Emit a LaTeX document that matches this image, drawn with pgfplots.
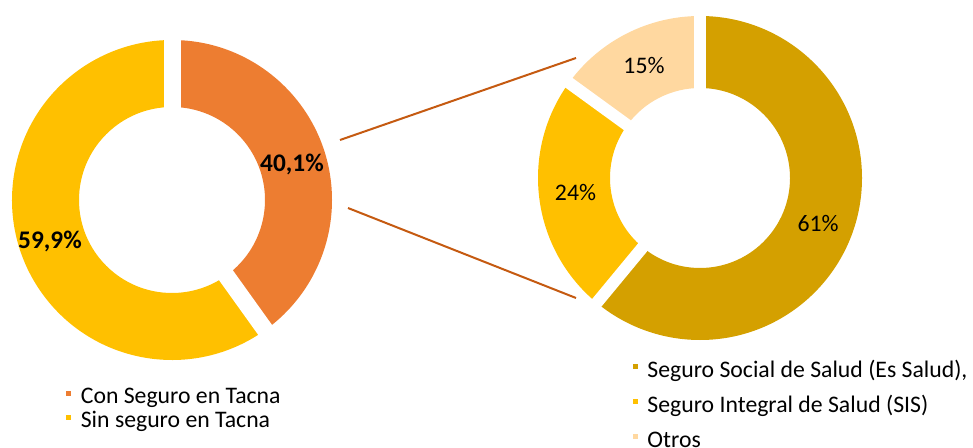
\documentclass[border=0pt]{standalone}
\usepackage{pgfplots}
\pgfplotsset{compat=1.18}
\usepackage{fontspec}
\setmainfont{Carlito}
\definecolor{cOrange}{HTML}{ED7D31}
\definecolor{cYellow}{HTML}{FFC000}
\definecolor{cGold}{HTML}{D4A000}
\definecolor{cPeach}{HTML}{FFD8A0}
\definecolor{cLine}{HTML}{C55A11}

% #1 cx, #2 cy, #3 outer R, #4 inner r, #5 start %, #6 end %, #7 colour  (units: px of the reference)
\newcommand{\slice}[7]{%
  \fill[#7] (axis cs:{#1+#3*cos(90-3.6*(#5))},{#2+#3*sin(90-3.6*(#5))})
    arc[start angle={90-3.6*(#5)}, end angle={90-3.6*(#6)}, radius={#3*0.75pt}]
    -- (axis cs:{#1+#4*cos(90-3.6*(#6))},{#2+#4*sin(90-3.6*(#6))})
    arc[start angle={90-3.6*(#6)}, end angle={90-3.6*(#5)}, radius={#4*0.75pt}]
    -- cycle;}
% white separating gap at boundary #5 (%), width #6
\newcommand{\gap}[6]{%
  \draw[white, line width=#6] (axis cs:{#1+(#4-3)*cos(90-3.6*(#5))},{#2+(#4-3)*sin(90-3.6*(#5))})
    -- (axis cs:{#1+(#3+3)*cos(90-3.6*(#5))},{#2+(#3+3)*sin(90-3.6*(#5))});}

\pgfplotsset{
  base/.style={x=0.75pt, y=0.75pt, xmin=0, xmax=973, ymin=0, ymax=447,
    hide axis, clip=false, anchor=south west, at={(0,0)},
    legend cell align=left,
    legend image code/.code={\fill[##1] (0pt,3.6pt) rectangle (3pt,6.6pt);},
    legend style={draw=none, fill=none, inner sep=0pt, outer sep=0pt,
      anchor=north west, font=\fontsize{17.8}{21}\selectfont,
      nodes={inner sep=0pt, text height=12pt, text depth=6pt},
      /tikz/every odd column/.style={column sep=7.4pt}}},
}

\begin{document}
\begin{tikzpicture}
\begin{axis}[base, name=ax,
  legend style={at={(axis description cs:0.0683,0.132)}, row sep=0pt}]
  \addlegendimage{cOrange}\addlegendentry{Con Seguro en Tacna}
  \addlegendimage{cYellow}\addlegendentry{Sin seguro en Tacna}
  % left donut: 40,1 / 59,9
  \slice{172}{247}{160}{93}{0}{40.1}{cOrange}
  \slice{172}{247}{160}{93}{40.1}{100}{cYellow}
  \gap{172}{247}{160}{93}{0}{12.75pt}
  \gap{172}{247}{160}{93}{40.1}{12.75pt}
  % right donut: 61 / 24 / 15
  \slice{700}{269}{162}{90}{0}{61}{cGold}
  \slice{700}{269}{162}{90}{61}{85}{cYellow}
  \slice{700}{269}{162}{90}{85}{100}{cPeach}
  \gap{700}{269}{162}{90}{0}{9pt}
  \gap{700}{269}{162}{90}{61}{9pt}
  \gap{700}{269}{162}{90}{85}{9pt}
  % connector lines
  \addplot[cLine, line width=1.5pt, forget plot] coordinates {(340,307) (576,389)};
  \addplot[cLine, line width=1.5pt, forget plot] coordinates {(348,239) (576,149)};
  % labels
  \node[anchor=base, font=\fontsize{19}{22}\selectfont\bfseries] at (axis cs:292,275.5) {40,1\%};
  \node[anchor=base, font=\fontsize{19}{22}\selectfont\bfseries] at (axis cs:50,199) {59,9\%};
  \node[anchor=base, font=\fontsize{17.8}{21}\selectfont] at (axis cs:818,216) {61\%};
  \node[anchor=base, font=\fontsize{17.8}{21}\selectfont] at (axis cs:575.5,247) {24\%};
  \node[anchor=base, font=\fontsize{17.8}{21}\selectfont] at (axis cs:644,373) {15\%};
\end{axis}
\begin{axis}[base,
  legend style={at={(axis description cs:0.6506,0.1924)}, row sep=8.25pt}]
  \addlegendimage{cGold}\addlegendentry{Seguro Social de Salud (Es Salud),}
  \addlegendimage{cYellow}\addlegendentry{Seguro Integral de Salud (SIS)}
  \addlegendimage{cPeach}\addlegendentry{Otros}
\end{axis}
\pgfresetboundingbox
\useasboundingbox (ax.south west) rectangle (ax.north east);
\end{tikzpicture}
\end{document}
